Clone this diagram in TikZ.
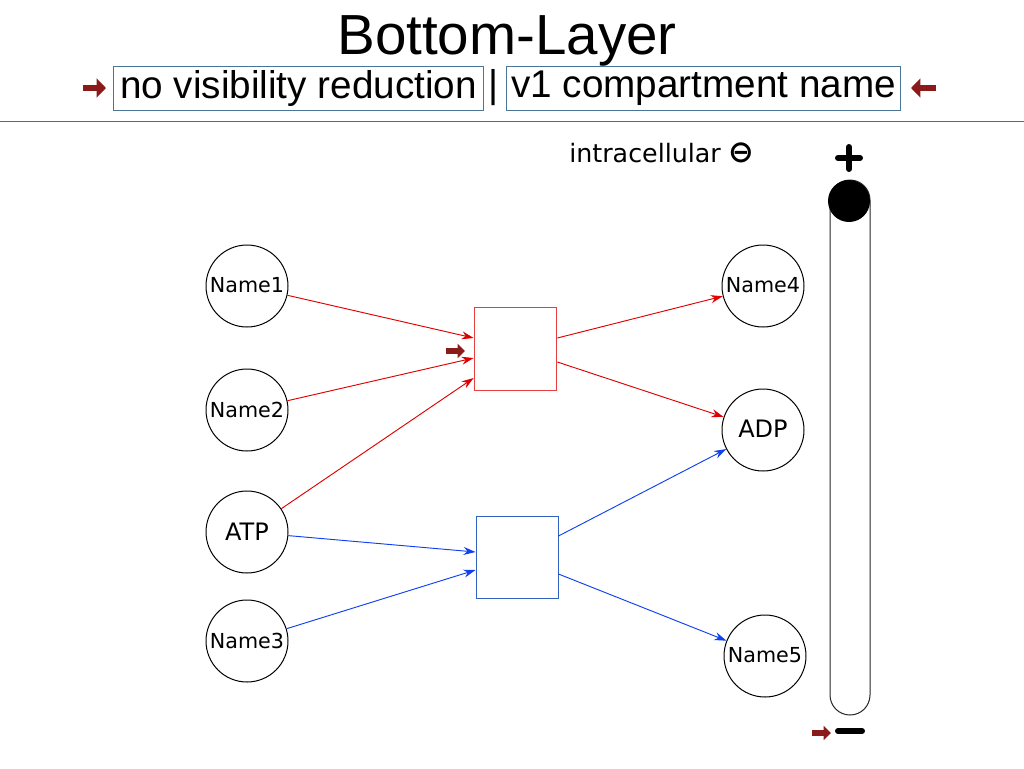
\documentclass[tikz,border=0pt]{standalone}
\usepackage{fontspec}
\setmainfont{Liberation Sans}
\newfontfamily\dv{DejaVu Sans}
\usetikzlibrary{arrows.meta,calc}
\definecolor{arred}{HTML}{E00000}
\definecolor{arblue}{HTML}{1040F0}
\definecolor{boxblue}{HTML}{3060C0}
\definecolor{frameblue}{HTML}{4A7595}
\definecolor{darkred}{HTML}{8B1A1A}
\tikzset{
  species/.style={circle,draw,line width=0.75pt,minimum size=61.5pt,inner sep=0pt,font=\dv\fontsize{15.5pt}{16pt}\selectfont},
  big/.style={font=\dv\fontsize{18pt}{19pt}\selectfont},
  reacred/.style={draw=arred!75,line width=0.8pt,minimum size=62pt,inner sep=0pt},
  reacblue/.style={draw=boxblue,line width=0.7pt,minimum size=61.5pt,inner sep=0pt},
  redarrow/.style={draw=arred,line width=0.7pt,-{Stealth[length=9pt,width=6pt]}},
  bluearrow/.style={draw=arblue,line width=0.7pt,-{Stealth[length=9pt,width=6pt]}},
  framebox/.style={draw=frameblue,line width=0.75pt,inner sep=0pt,minimum height=33pt,font=\fontsize{29pt}{30pt}\selectfont},
  thickarrow/.style={draw=darkred,fill=darkred,line width=5pt,-{Triangle[length=7pt,width=14pt]}},
  smallthick/.style={draw=darkred,fill=darkred,line width=4pt,-{Triangle[length=5.5pt,width=10.5pt]}},
}
\begin{document}
\begin{tikzpicture}[x=0.75pt,y=-0.75pt]
\useasboundingbox[fill=white] (0,0) rectangle (1024,768);
% title
\node[anchor=base,font=\fontsize{42.4pt}{44pt}\selectfont,inner sep=0pt] (title) at (507,54) {Bottom-Layer};
\node[framebox,minimum width=278pt] (vis) at (298.5,88) {no visibility reduction};
\node[framebox,minimum width=296pt] (comp) at (703.5,88) {v1 compartment name};
\node[font=\fontsize{29pt}{30pt}\selectfont,inner sep=0pt] (bar) at (494,88) {|};
\draw[thickarrow] (83,88) -- (106,88);
\draw[thickarrow] (936,88) -- (911,88);
\draw[gray!80!black,line width=0.75pt] (0,121) -- (1024,121);
% compartment label
\node[anchor=base west,inner sep=0pt,font=\dv\fontsize{19pt}{20pt}\selectfont] (intra) at (569,162) {intracellular {\fontsize{23pt}{24pt}\selectfont\textbf{⊖}}};
% species
\node[species] (n1) at (247,286) {\raisebox{2pt}{Name1}};
\node[species] (n2) at (247,410) {Name2};
\node[species,big] (atp) at (247,532) {ATP};
\node[species] (n3) at (247,641) {Name3};
\node[species] (n4) at (763,286) {\raisebox{2pt}{Name4}};
\node[species,big] (adp) at (763,430) {\raisebox{1.5pt}{ADP}};
\node[species] (n5) at (765,656) {\raisebox{1pt}{Name5}};
% reactions
\node[reacred] (r1) at (515.5,349) {};
\node[reacblue] (r2) at (517,557) {};
\draw[redarrow] (n1) -- ($(r1.west)+(0,-11)$);
\draw[redarrow] (n2) -- ($(r1.west)+(0,9)$);
\draw[redarrow] (atp) -- ($(r1.west)+(0,29)$);
\draw[redarrow] ($(r1.east)+(0,-11)$) -- (n4);
\draw[redarrow] ($(r1.east)+(0,13)$) -- (adp);
\draw[bluearrow] (atp) -- ($(r2.west)+(0,-5)$);
\draw[bluearrow] (n3) -- ($(r2.west)+(0,13)$);
\draw[bluearrow] ($(r2.east)+(0,-21)$) -- (adp);
\draw[bluearrow] ($(r2.east)+(0,17)$) -- (n5);
\draw[smallthick] (446,351) -- (465,351);
% colour bar
\draw[line width=0.75pt,rounded corners=15pt,draw=black!85] (830,180) rectangle (870,715);
\fill (849,201) circle[radius=21];
\draw[line width=4.5pt,line cap=round] (838,158) -- (860,158) (849,147) -- (849,169);
\draw[line width=4.5pt,line cap=round] (838,731) -- (862,731);
\draw[smallthick] (812,733) -- (831,733);
\end{tikzpicture}
\end{document}
